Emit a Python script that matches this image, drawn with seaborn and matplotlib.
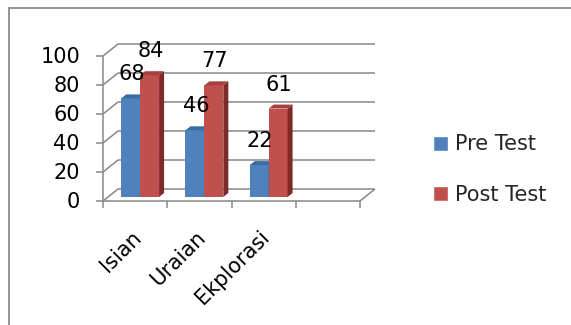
import matplotlib
matplotlib.use("Agg")
import matplotlib.pyplot as plt
import seaborn as sns
import pandas as pd
from matplotlib.patches import Polygon, Patch
from matplotlib.lines import Line2D
from matplotlib.transforms import IdentityTransform

# ---- data ----
categories = ["Isian", "Uraian", "Ekplorasi"]
pre_test = [68, 46, 22]
post_test = [84, 77, 61]
series_names = ["Pre Test", "Post Test"]
y_ticks = [0, 20, 40, 60, 80, 100]

sns.set_theme(style="white")
plt.rcParams['font.family'] = ['DejaVu Sans']
FS = 15

W, H = 571, 325
DPI = 100
fig = plt.figure(figsize=(W / DPI, H / DPI), dpi=DPI)
fig.patch.set_facecolor("white")


def px_rect(left, top, right, bottom):
    return [left / W, 1 - bottom / H, (right - left) / W, (bottom - top) / H]


ax = fig.add_axes(px_rect(108, 52, 365, 197))
blue, red = "#4F81BD", "#C0504D"
blue_top, blue_side = "#3D6BA3", "#2F5688"
red_top, red_side = "#A8403E", "#7E2A28"

df = pd.DataFrame({
    "Kategori": categories * 2,
    "Nilai": pre_test + post_test,
    "Seri": [series_names[0]] * len(categories) + [series_names[1]] * len(categories),
})
sns.barplot(data=df, x="Kategori", y="Nilai", hue="Seri", palette=[blue, red],
            width=0.59, gap=0, ax=ax, legend=False, saturation=1,
            edgecolor="none", linewidth=0, errorbar=None)
ax.set_xlim(-0.5, 3.5)
ax.set_ylim(0, 100)
ax.axis("off")

FRONT = (-5, -4)
BACK = (10, 8)
DEPTH = (5, 4)
ID = IdentityTransform()
GRID = "#878787"
LW = 1.1


def pt(x, y, shift=(0, 0)):
    d = ax.transData.transform((x, y))
    return (d[0] + shift[0], d[1] + shift[1])


def line(p, q, z=1):
    ax.add_line(Line2D([p[0], q[0]], [p[1], q[1]], transform=ID, color=GRID,
                       lw=LW, clip_on=False, zorder=z, solid_capstyle="butt"))


x0, x1 = -0.5, 3.5
for v in y_ticks:
    line(pt(x0, v, BACK), pt(x1, v, BACK))
    line(pt(x0, v, FRONT), pt(x0, v, BACK))
    p = pt(x0, v, FRONT)
    line((p[0] - 7, p[1]), p)
    fig.text(p[0] - 23, p[1] - 7, str(v), transform=ID, ha="right",
             va="baseline", fontsize=FS, color="black")
line(pt(x0, 0, FRONT), pt(x0, 100, FRONT))
line(pt(x0, 0, FRONT), pt(x1, 0, FRONT))
line(pt(x1, 0, FRONT), pt(x1, 0, BACK))
for b in [-0.5, 0.5, 1.5, 2.5, 3.5]:
    p = pt(b, 0, FRONT)
    line(p, (p[0], p[1] - 7))

for i, c in enumerate(categories):
    p = pt(i, 0, FRONT)
    fig.text(p[0] + 3, p[1] - 33, c, transform=ID, ha="right", va="center",
             rotation=45, rotation_mode="anchor", fontsize=FS, color="black")

# 3D faces of bars
faces = [(blue_top, blue_side), (red_top, red_side)]
for k, cont in enumerate(ax.containers):
    top_c, side_c = faces[k]
    base_z = 3 + k * 0.2
    for bar in cont:
        bar.set_zorder(base_z)
        bx, bw, bh = bar.get_x(), bar.get_width(), bar.get_height()
        A = pt(bx, bh)
        B = pt(bx + bw, bh)
        Bb = pt(bx + bw, 0)
        top = [A, B, (B[0] + DEPTH[0], B[1] + DEPTH[1]), (A[0] + DEPTH[0], A[1] + DEPTH[1])]
        side = [B, (B[0] + DEPTH[0], B[1] + DEPTH[1]),
                (Bb[0] + DEPTH[0], Bb[1] + DEPTH[1]), Bb]
        ax.add_patch(Polygon(top, closed=True, transform=ID, facecolor=top_c,
                             edgecolor="none", zorder=base_z + 0.1, clip_on=False))
        ax.add_patch(Polygon(side, closed=True, transform=ID, facecolor=side_c,
                             edgecolor="none", zorder=base_z + 0.1, clip_on=False))
        c = pt(bx + bw / 2, bh)
        fig.text(c[0] + 1, c[1] + 18, f"{bh:g}", transform=ID, ha="center",
                 va="baseline", fontsize=FS, color="black")

fig.legend(handles=[Patch(facecolor=blue), Patch(facecolor=red)], labels=series_names,
           loc="center left", bbox_to_anchor=(433 / W, 1 - 169.5 / H), frameon=False,
           handlelength=0.72, handleheight=0.72, handletextpad=0.35,
           labelspacing=1.45, borderpad=0, borderaxespad=0, fontsize=FS)

# outer border (left and top visible)
fig.add_artist(Line2D([9, 9], [H - 8, 0], transform=ID, color="#8A8A8A", lw=1.3))
fig.add_artist(Line2D([9, W], [H - 8, H - 8], transform=ID, color="#8A8A8A", lw=1.3))

fig.savefig("out.png", dpi=DPI)
